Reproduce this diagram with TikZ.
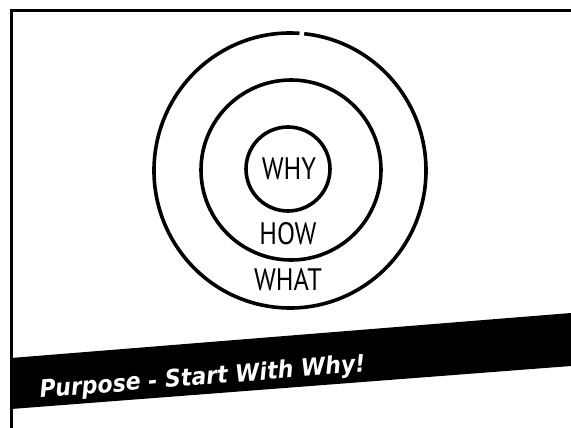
\documentclass[tikz,border=0pt]{standalone}
\usepackage{fontspec}
\newfontfamily\handfont{PT Sans}
\newfontfamily\bandfont[FakeStretch=0.92]{DejaVu Sans}

\begin{document}
\begin{tikzpicture}[
        x=1pt, y=-1pt,
        line width=3pt,
        every node/.style={inner sep=0pt},
        ring/.style={line width=3.6pt},
        hand/.style={font=\handfont\fontsize{31}{31}\selectfont}
    ]
    \useasboundingbox (0,0) rectangle (571,428);

    % Frame
    \draw (11,428) -- (11,11) -- (571,11);

    % Circles
    \draw[ring] (290,170.5) ++(-84:136 and 137.5)
      arc[start angle=-84, end angle=274, x radius=136, y radius=137.5];
    \draw[ring] (291,170) ellipse[x radius=90, y radius=90];
    \draw[ring] (288,169) circle[radius=42];

    % Words
    \node[hand, xscale=0.85] (why) at (289,169) {WHY};
    \node[hand, xscale=0.85] (how) at (288,234) {HOW};
    \node[hand, xscale=0.85] (what) at (288,280) {WHAT};

    % Band
    \fill (11,358) -- (571,313) -- (571,366) -- (11,409) -- cycle;
    \node[anchor=base west, rotate=4.6, text=white,
          font=\bandfont\bfseries\itshape\fontsize{24}{24}\selectfont]
      (title) at (39,398) {Purpose - Start With Why!};
\end{tikzpicture}
\end{document}
